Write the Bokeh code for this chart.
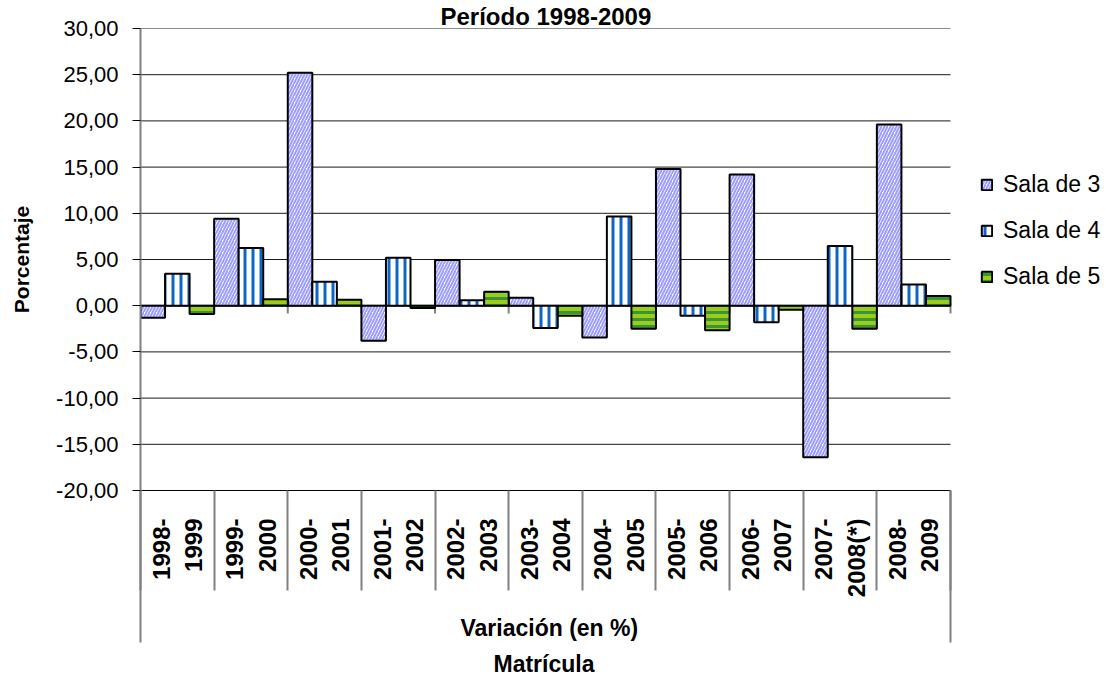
import math
from bokeh.plotting import figure
from bokeh.models import (Range1d, LinearAxis, FixedTicker, Legend, LegendItem,
                          Title, ColumnDataSource)
from bokeh.embed import file_html
from bokeh.resources import INLINE

# ---------------- data ----------------
periods = ["1998-\n1999", "1999-\n2000", "2000-\n2001", "2001-\n2002", "2002-\n2003",
           "2003-\n2004", "2004-\n2005", "2005-\n2006", "2006-\n2007", "2007-\n2008(*)",
           "2008-\n2009"]
sala3 = [-1.3, 9.4, 25.2, -3.8, 4.95, 0.85, -3.45, 14.8, 14.2, -16.4, 19.6]
sala4 = [3.45, 6.25, 2.6, 5.2, 0.6, -2.4, 9.65, -1.1, -1.8, 6.45, 2.3]
sala5 = [-0.9, 0.7, 0.65, -0.25, 1.5, -1.1, -2.5, -2.65, -0.45, -2.5, 1.05]
series_names = ["Sala de 3", "Sala de 4", "Sala de 5"]
y_ticks = [-20, -15, -10, -5, 0, 5, 10, 15, 20, 25, 30]
title_text = "Período 1998-2009"
group_label = "Variación (en %)"
x_title = "Matrícula"
y_title = "Porcentaje"

FONT = "Liberation Sans"
n = len(periods)
centers = [i + 0.5 for i in range(n)]
bounds = list(range(n + 1))

# layout (pixels)
W, H = 1108, 677
LEFT, TOP, BOTTOM = 140, 28, 187
PLOT_W = 810                     # width of the category area
FRAME_W = W - LEFT               # frame extends under the legend
x_end = n * FRAME_W / PLOT_W

p = figure(width=W, height=H, x_range=Range1d(0, x_end),
           y_range=Range1d(y_ticks[0], y_ticks[-1]),
           output_backend="svg", toolbar_location=None,
           min_border_left=LEFT, min_border_top=TOP, min_border_right=0,
           min_border_bottom=BOTTOM)
p.outline_line_color = None
p.background_fill_color = "white"
p.xgrid.visible = False
p.ygrid.visible = False

# horizontal grid lines limited to the category area
p.segment(x0=[0] * len(y_ticks), x1=[n] * len(y_ticks), y0=y_ticks, y1=y_ticks,
          line_color="#1a1a1a", line_width=1, level="underlay")
# zero (category) line with small ticks at category boundaries
p.segment(x0=[0], x1=[n], y0=[0], y1=[0], line_color="#808080", line_width=2,
          level="underlay")
p.segment(x0=bounds, y0=[0] * len(bounds), x1=bounds, y1=[-0.85] * len(bounds),
          line_color="#808080", line_width=2)

# y axis
ya = p.yaxis[0]
ya.ticker = FixedTicker(ticks=y_ticks)
ya.major_label_overrides = {t: f"{t:.2f}".replace(".", ",") for t in y_ticks}
ya.major_label_text_font = FONT
ya.major_label_text_font_size = "22px"
ya.major_label_text_color = "black"
ya.major_label_standoff = 14
ya.major_tick_out = 8
ya.major_tick_in = 0
ya.major_tick_line_color = "black"
ya.minor_tick_line_color = None
ya.axis_line_color = "#808080"
ya.axis_line_width = 2
ya.axis_label = y_title
ya.axis_label_text_font = FONT
ya.axis_label_text_font_size = "21px"
ya.axis_label_text_font_style = "bold"
ya.axis_label_text_color = "black"
ya.axis_label_standoff = 20

# x axis 1: category labels + separators
xa = p.xaxis[0]
xa.bounds = (0, n)
xa.ticker = FixedTicker(ticks=centers, minor_ticks=bounds)
xa.major_label_overrides = {c: lab for c, lab in zip(centers, periods)}
xa.major_label_orientation = math.pi / 2
xa.major_label_text_font = FONT
xa.major_label_text_font_size = "24px"
xa.major_label_text_font_style = "bold"
xa.major_label_text_color = "black"
xa.major_label_standoff = -72
xa.major_tick_out = 0
xa.major_tick_in = 0
xa.minor_tick_out = 100
xa.minor_tick_in = 0
xa.minor_tick_line_color = "#808080"
xa.minor_tick_line_width = 2
xa.axis_line_color = "black"
xa.axis_line_width = 1

# group label under the category labels
p.add_layout(Title(text=group_label, align="left", offset=320, standoff=25,
                   vertical_align="bottom", text_font=FONT,
                   text_font_size="23px", text_font_style="bold",
                   text_color="black"), "below")

# x axis 2: outer bracket lines of the category block
xa2 = LinearAxis(ticker=FixedTicker(ticks=[bounds[0], bounds[-1]], minor_ticks=[]))
xa2.bounds = (0, n)
xa2.major_label_overrides = {bounds[0]: "", bounds[-1]: ""}
xa2.major_label_standoff = 0
xa2.major_tick_in = 163
xa2.major_tick_out = -11
xa2.major_tick_line_color = "#808080"
xa2.major_tick_line_width = 2
xa2.axis_line_color = None
xa2.minor_tick_line_color = None
p.add_layout(xa2, "below")

p.add_layout(Title(text=x_title, align="left", offset=(PLOT_W / 2) - 52,
                   standoff=-9, vertical_align="bottom", text_font=FONT,
                   text_font_size="23px", text_font_style="bold",
                   text_color="black"), "below")

# chart title on top
p.add_layout(Title(text=title_text, align="left", offset=300, standoff=-2,
                   vertical_align="bottom", text_font=FONT,
                   text_font_size="24px", text_font_style="bold",
                   text_color="black"), "above")

# bars
styles = [
    dict(fill_color="white", hatch_pattern="/", hatch_color="#9d9dff",
         hatch_scale=6, hatch_weight=2),
    dict(fill_color="white", hatch_pattern="|", hatch_color="#0b66c8",
         hatch_scale=8, hatch_weight=3),
    dict(fill_color="#9ccc1a", hatch_pattern="-", hatch_color="#3a943a",
         hatch_scale=7, hatch_weight=3),
]
w = 1 / 3
renderers = []
for k, (vals, st) in enumerate(zip([sala3, sala4, sala5], styles)):
    src = ColumnDataSource(dict(x=[i + w * (k + 0.5) for i in range(n)], top=vals))
    r = p.vbar(x="x", top="top", bottom=0, width=w, source=src,
               line_color="black", line_width=2, **st)
    renderers.append(r)

legend = Legend(items=[LegendItem(label=nm, renderers=[r])
                       for nm, r in zip(series_names, renderers)],
                location=(PLOT_W + 30, 191), padding=0, spacing=0, margin=0,
                glyph_width=13, glyph_height=13, label_height=46,
                label_standoff=10, label_text_font=FONT,
                label_text_font_size="23px", label_text_color="black",
                border_line_color=None, background_fill_alpha=0)
p.add_layout(legend, "center")

open("out.html", "w").write(file_html(p, INLINE))
